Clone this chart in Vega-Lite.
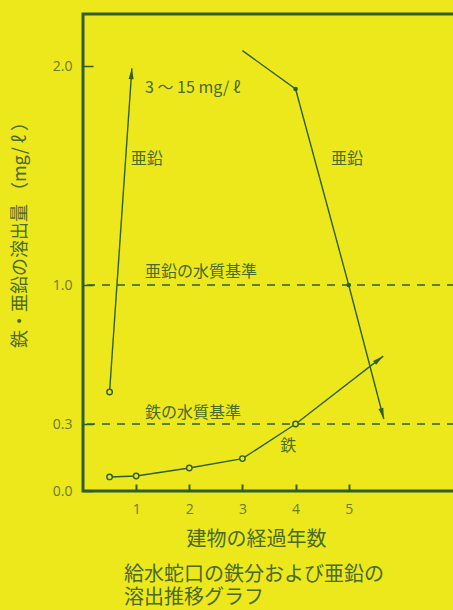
{
  "$schema": "https://vega.github.io/schema/vega-lite/v6.json",
  "autosize": "none",
  "width": 372,
  "height": 477,
  "padding": {"left": 83, "top": 14, "right": 0, "bottom": 119},
  "background": "#ece81c",
  "config": {
    "view": {"stroke": "#2f5f2a", "strokeWidth": 3},
    "font": "Noto Sans CJK JP"
  },
  "title": {
    "text": ["給水蛇口の鉄分および亜鉛の", "溶出推移グラフ"],
    "orient": "bottom",
    "anchor": "start",
    "frame": "group",
    "dx": 41,
    "offset": 16,
    "fontSize": 20,
    "fontWeight": "normal",
    "lineHeight": 23,
    "color": "#4a6a28",
    "font": "Noto Sans CJK JP"
  },
  "datasets": {
    "series": [
      {"series": "鉄", "x": 0.5, "y": 0.063, "kind": "open"},
      {"series": "鉄", "x": 1, "y": 0.067, "kind": "open"},
      {"series": "鉄", "x": 2, "y": 0.103, "kind": "open"},
      {"series": "鉄", "x": 3, "y": 0.145, "kind": "open"},
      {"series": "鉄", "x": 4, "y": 0.3, "kind": "open"},
      {"series": "鉄", "x": 5.65, "y": 0.642, "kind": "tip"},
      {"series": "亜鉛A", "x": 0.5, "y": 0.461, "kind": "open"},
      {"series": "亜鉛A", "x": 0.92, "y": 1.99, "kind": "tip"},
      {"series": "亜鉛B", "x": 3.0, "y": 2.07, "kind": "start"},
      {"series": "亜鉛B", "x": 4, "y": 1.895, "kind": "filled"},
      {"series": "亜鉛B", "x": 5, "y": 1.0, "kind": "filled"},
      {"series": "亜鉛B", "x": 5.66, "y": 0.325, "kind": "tip"}
    ],
    "refs": [{"v": 1.0}, {"v": 0.3}],
    "leftLabels": [
      {"x": 1.167, "y": 1.90, "label": "3 ～ 15 mg/ ℓ"},
      {"x": 1.167, "y": 1.06, "label": "亜鉛の水質基準"},
      {"x": 1.167, "y": 0.355, "label": "鉄の水質基準"}
    ],
    "centerLabels": [
      {"x": 1.2, "y": 1.575, "label": "亜鉛"},
      {"x": 4.97, "y": 1.575, "label": "亜鉛"},
      {"x": 3.86, "y": 0.2, "label": "鉄"}
    ]
  },
  "encoding": {
    "x": {
      "field": "x", "type": "quantitative",
      "scale": {"domain": [0, 7], "nice": false, "zero": false},
      "axis": {
        "values": [1, 2, 3, 4, 5],
        "domain": false,
        "grid": false,
        "tickSize": -7,
        "tickWidth": 2,
        "tickColor": "#2f5f2a",
        "labelPadding": 18,
        "labelFontSize": 14,
        "labelColor": "#6b7a28",
        "labelFont": "Open Sans",
        "title": "建物の経過年数",
        "titleFontSize": 20,
        "titleFontWeight": "normal",
        "titleColor": "#4a6a28",
        "titleX": 173,
        "titleY": 48,
        "titleBaseline": "middle",
        "titleAlign": "center"
      }
    },
    "y": {
      "field": "y", "type": "quantitative",
      "scale": {"domain": [0, 0.3, 1, 2, 2.237], "range": [477, 410, 271, 52, 0], "nice": false, "zero": false},
      "axis": {
        "values": [0, 0.3, 1, 2],
        "format": ".1f",
        "domain": false,
        "grid": false,
        "tickSize": -10,
        "tickWidth": 1.5,
        "tickColor": "#2f5f2a",
        "labelPadding": 21,
        "labelFontSize": 14,
        "labelColor": "#6b7a28",
        "labelFont": "Open Sans",
        "title": "鉄・亜鉛の溶出量 （mg/ ℓ ）",
        "titleFontSize": 18,
        "titleFontWeight": "normal",
        "titleColor": "#4a6a28",
        "titleX": -63,
        "titleY": 216,
        "titleAngle": 270,
        "titleBaseline": "middle",
        "titleAlign": "center"
      }
    }
  },
  "layer": [
    {
      "data": {"name": "refs"},
      "mark": {"type": "rule", "color": "#2f5f2a", "strokeWidth": 1.3, "strokeDash": [8, 7]},
      "encoding": {"y": {"field": "v", "type": "quantitative"}, "x": null}
    },
    {
      "data": {"name": "series"},
      "mark": {"type": "line", "color": "#2f5f2a", "strokeWidth": 1.4},
      "encoding": {"detail": {"field": "series"}}
    },
    {
      "data": {"name": "series"},
      "transform": [{"filter": "datum.kind == 'open'"}],
      "mark": {"type": "point", "shape": "circle", "filled": true, "fill": "#ece81c", "stroke": "#2f5f2a", "strokeWidth": 1.4, "size": 30, "opacity": 1}
    },
    {
      "data": {"name": "series"},
      "transform": [{"filter": "datum.kind == 'filled'"}],
      "mark": {"type": "point", "shape": "circle", "filled": true, "color": "#2f5f2a", "size": 22, "opacity": 1}
    },
    {
      "data": {"name": "series"},
      "transform": [{"filter": "datum.kind == 'tip' && datum.series == '鉄'"}],
      "mark": {"type": "point", "shape": "M0,0L0.5,2.2L-0.5,2.2Z", "filled": true, "color": "#2f5f2a", "size": 100, "angle": 52, "opacity": 1}
    },
    {
      "data": {"name": "series"},
      "transform": [{"filter": "datum.kind == 'tip' && datum.series == '亜鉛A'"}],
      "mark": {"type": "point", "shape": "M0,0L0.5,2.2L-0.5,2.2Z", "filled": true, "color": "#2f5f2a", "size": 100, "angle": 4, "opacity": 1}
    },
    {
      "data": {"name": "series"},
      "transform": [{"filter": "datum.kind == 'tip' && datum.series == '亜鉛B'"}],
      "mark": {"type": "point", "shape": "M0,0L0.5,2.2L-0.5,2.2Z", "filled": true, "color": "#2f5f2a", "size": 100, "angle": 165, "opacity": 1}
    },
    {
      "data": {"name": "leftLabels"},
      "mark": {"type": "text", "align": "left", "baseline": "middle", "fontSize": 16, "color": "#4a6a28", "font": "Noto Sans CJK JP"},
      "encoding": {"text": {"field": "label"}}
    },
    {
      "data": {"name": "centerLabels"},
      "mark": {"type": "text", "align": "center", "baseline": "middle", "fontSize": 16, "color": "#4a6a28", "font": "Noto Sans CJK JP"},
      "encoding": {"text": {"field": "label"}}
    }
  ]
}
